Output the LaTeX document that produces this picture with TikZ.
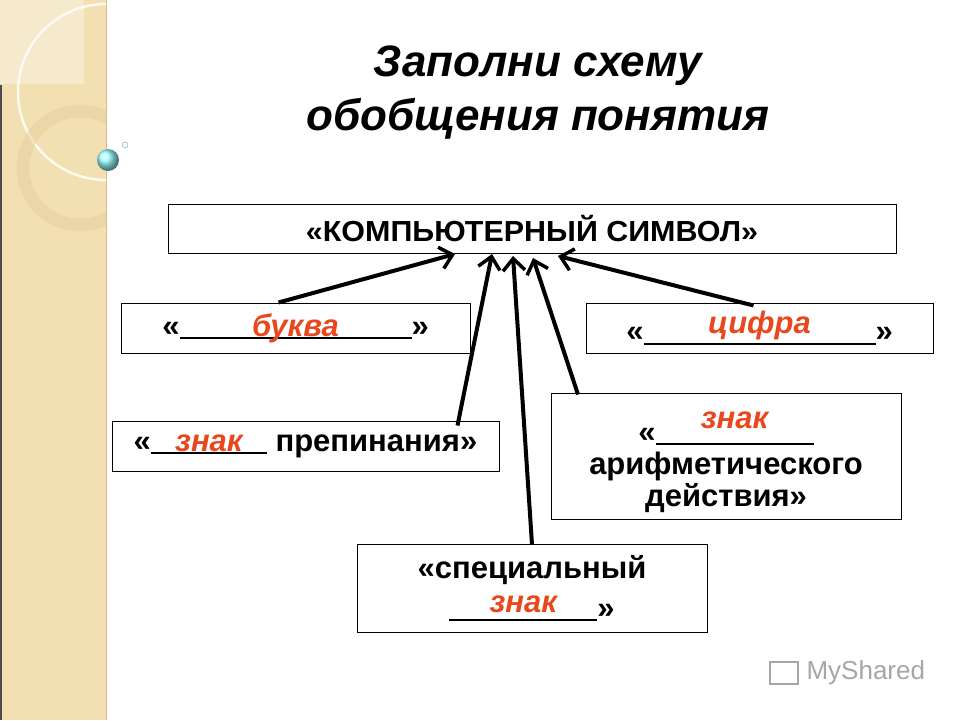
\documentclass[tikz,border=0pt]{standalone}
\usepackage{fontspec}
\setmainfont{Liberation Sans}
\usetikzlibrary{arrows.meta}
\definecolor{fillred}{RGB}{232,72,30}
\definecolor{beige}{RGB}{242,223,178}
\newcommand{\blank}[2]{\makebox[0pt][l]{\rule[-3pt]{#1}{2pt}}\makebox[#1]{\color{fillred}\itshape #2}}
\tikzset{
 box/.style={draw=black,line width=1pt,fill=white,inner sep=0pt,font=\bfseries\fontsize{31}{44}\selectfont,align=center},
 conn/.style={line width=4pt,-{Straight Barb[length=12pt,width=22pt,line width=3.5pt]}},
}
\begin{document}
\begin{tikzpicture}[x=1pt,y=-1pt]
\useasboundingbox (0,0) rectangle (960,720);
\fill[white] (0,0) rectangle (960,720);
% left decoration
\fill[beige] (0,0) rectangle (106,720);
\begin{scope}
\clip (0,0) rectangle (106,720);
\fill[white,opacity=0.35] (0,0) rectangle (84,84);
\draw[white!85!beige,line width=2.5pt] (106,92) circle[radius=88];
\draw[beige!80!brown,line width=13pt,opacity=0.5] (80,168) circle[radius=57];
\end{scope}
\draw[beige!60!brown,line width=1pt] (106,0) -- (106,720);
\draw[black!70,line width=1.5pt] (1,85) -- (1,720);
\shade[ball color=cyan!40] (108,160) circle[radius=11];
\draw[cyan!50!gray] (125,145) circle[radius=3];
% title
\node[font=\bfseries\itshape\fontsize{44}{54}\selectfont,align=center] (title) at (538,93) {Заполни схему\\обобщения понятия};
% boxes
\node[box,minimum width=728,minimum height=49] (top) at (532,229) {};
\node[font=\bfseries\fontsize{29}{30}\selectfont] (toptext) at (532,229) {\scalebox{1.05}[1]{«КОМПЬЮТЕРНЫЙ СИМВОЛ»}};
\node[box,minimum width=349,minimum height=50] (b1) at (295.5,328) {\raisebox{-4pt}{«\blank{232pt}{буква}»}};
\node[box,minimum width=347,minimum height=50] (b2) at (759.5,328) {«\blank{232pt}{\raisebox{8pt}{цифра}}»};
\node[box,minimum width=387,minimum height=50] (b3) at (305.5,446) {«\blank{116pt}{знак} препинания»};
\node[box,minimum width=350,minimum height=126,text depth=0pt] (b4) at (726,456) {};
\node[font=\bfseries\fontsize{31}{32}\selectfont,align=center] (b4t) at (726,462) {«\blank{158pt}{\raisebox{14pt}{знак}}\hspace{30pt}\\арифметического\\действия»};
\node[box,minimum width=350,minimum height=88,font=\bfseries\fontsize{31}{40}\selectfont] (b5) at (532,588) {«специальный\\\blank{148pt}{\raisebox{6pt}{знак}}»};
% arrows
\coordinate (t1) at (455,254);
\coordinate (t2) at (492,254);
\coordinate (t3) at (513,256);
\coordinate (t4) at (533,258);
\coordinate (t5) at (558,256);
\draw[conn] ([xshift=-17pt]b1.north) -- (t1);
\draw[conn] ([xshift=152pt,yshift=-5pt]b3.north) -- (t2);
\draw[conn] ([yshift=-1pt]b5.north) -- (t3);
\draw[conn] ([xshift=-148pt,yshift=-2pt]b4.north) -- (t4);
\draw[conn] ([xshift=-6pt,yshift=-3pt]b2.north) -- (t5);
% watermark
\node[font=\fontsize{26}{28}\selectfont,text=gray!70,anchor=west] (logo) at (803,673) {MyShared};
\draw[gray!70,line width=2.5pt] (770,662) rectangle (798,684);
\end{tikzpicture}
\end{document}
